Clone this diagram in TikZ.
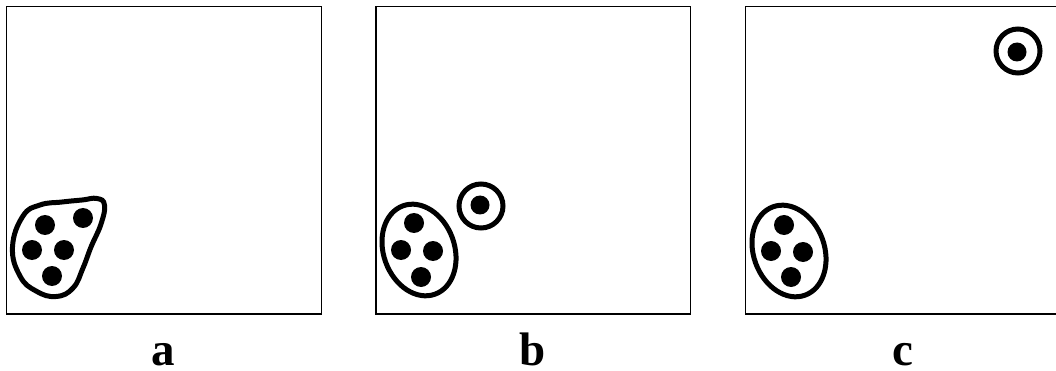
\documentclass[tikz,border=0pt]{standalone}
\usepackage{fontspec}
\setmainfont{Liberation Serif}
\begin{document}
\begin{tikzpicture}[x=1pt,y=-1pt,
  frame/.style={draw=black,line width=1.8pt},
  blob/.style={draw=black,line width=5pt},
  dot/.style={fill=black},
  lbl/.style={anchor=base,inner sep=0pt,font=\bfseries\fontsize{47}{47}\selectfont}]
\useasboundingbox (0,0) rectangle (1056,371);
% frames
\draw[frame] (6.5,6.5) rectangle (321.5,314);
\draw[frame] (376,6.5) rectangle (690.5,314);
\draw[frame] (745.5,6.5) rectangle (1070,314);
% panel a
\draw[blob] plot[smooth cycle,tension=0.75] coordinates {(12.5,247) (23,216) (40,205) (62,202) (82,200) (97,198.5) (104.5,205) (101,224) (91,247) (83,268) (73,288) (56,296.5) (36,291) (20,276)};
\foreach \p in {(45,225),(83,218),(32,250),(64,250),(52,276)} \fill[dot] \p circle (10);
% panel b
\draw[blob] (419,250) ellipse [x radius=35.5, y radius=47, rotate=20];
\foreach \p in {(414,223),(401,250),(433,251),(421,277)} \fill[dot] \p circle (10);
\draw[blob] (481,206) circle (22);
\fill[dot] (480,205) circle (9.5);
% panel c
\draw[blob] (789,251) ellipse [x radius=35.5, y radius=47, rotate=20];
\foreach \p in {(784,225),(771,251),(803,252),(791,277)} \fill[dot] \p circle (10);
\draw[blob] (1018,51) circle (22);
\fill[dot] (1017,52) circle (9.5);
% labels
\node[lbl] (la) at (163.5,365.5) {a};
\node[lbl] (lb) at (533,365.5) {b};
\node[lbl] (lc) at (903,365.5) {c};
\end{tikzpicture}
\end{document}
